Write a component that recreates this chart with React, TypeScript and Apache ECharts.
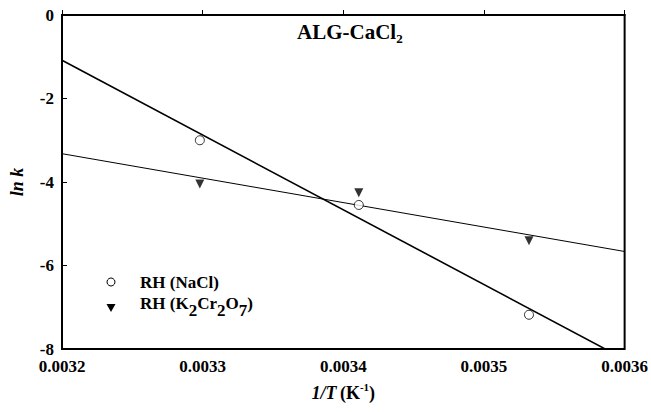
import React, { useEffect, useRef } from "react";
import * as echarts from "echarts";

const xNaCl = [0.003298, 0.003411, 0.003532];
const yNaCl = [-3.0, -4.55, -7.18];
const xK2Cr2O7 = [0.003298, 0.003411, 0.003532];
const yK2Cr2O7 = [-4.05, -4.26, -5.41];
const xTicks = [0.0032, 0.0033, 0.0034, 0.0035, 0.0036];
const yTicks = [-8, -6, -4, -2, 0];

const FONT = "Liberation Serif";

function fit(xs: number[], ys: number[], x0: number, x1: number) {
  const n = xs.length;
  const mx = xs.reduce((a, b) => a + b, 0) / n;
  const my = ys.reduce((a, b) => a + b, 0) / n;
  let sxy = 0, sxx = 0;
  for (let i = 0; i < n; i++) {
    sxy += (xs[i] - mx) * (ys[i] - my);
    sxx += (xs[i] - mx) * (xs[i] - mx);
  }
  const b = sxy / sxx;
  const a = my - b * mx;
  return [[x0, a + b * x0], [x1, a + b * x1]];
}

const base = (size: number, lh: number, extra: any = {}) => ({
  fontFamily: FONT, fontWeight: "bold", fontSize: size, color: "#000", fill: "#000", lineHeight: lh, ...extra,
});

export default function App() {
  const ref = useRef<HTMLDivElement>(null);
  useEffect(() => {
    const chart = echarts.init(ref.current!, null, { renderer: "svg" });
    const xmin = xTicks[0], xmax = xTicks[xTicks.length - 1];
    const grid = { left: 56, top: 15, right: 26, bottom: 63 };
    chart.setOption({
      animation: false,
      backgroundColor: "#fff",
      grid: { ...grid, show: true, borderColor: "#000", borderWidth: 2, backgroundColor: "transparent" },
      xAxis: {
        type: "value",
        min: xmin,
        max: xmax,
        interval: 0.0001,
        axisLine: { show: true, lineStyle: { color: "#000", width: 2 } },
        axisTick: { show: true, inside: true, length: 5, lineStyle: { color: "#000", width: 1 } },
        splitLine: { show: false },
        axisLabel: {
          color: "#000", fontFamily: FONT, fontWeight: "bold", fontSize: 17, margin: 9,
          formatter: (v: number) => v.toFixed(4),
        },
        name: "{i|1/T} {b|(K}{sup|-1}{b|)}",
        nameLocation: "middle",
        nameGap: 32,
        nameTextStyle: {
          rich: {
            i: base(18, 24, { fontStyle: "italic", verticalAlign: "middle" }),
            b: base(18, 24, { verticalAlign: "middle" }),
            sup: base(11, 11, { verticalAlign: "top" }),
          },
        },
      },
      yAxis: {
        type: "value",
        min: yTicks[0],
        max: yTicks[yTicks.length - 1],
        interval: 2,
        axisLine: { show: true, lineStyle: { color: "#000", width: 2 } },
        axisTick: { show: true, inside: true, length: 5, lineStyle: { color: "#000", width: 1 } },
        splitLine: { show: false },
        axisLabel: { color: "#000", fontFamily: FONT, fontWeight: "bold", fontSize: 17, margin: 8 },
        name: "ln k",
        nameLocation: "middle",
        nameGap: 36,
        nameTextStyle: { color: "#000", fontFamily: FONT, fontWeight: "bold", fontStyle: "italic", fontSize: 18 },
      },
      series: [
        {
          type: "line",
          data: fit(xNaCl, yNaCl, xmin, xmax),
          symbol: "none",
          lineStyle: { color: "#000", width: 1.6 },
          clip: true,
          z: 2,
        },
        {
          type: "line",
          data: fit(xK2Cr2O7, yK2Cr2O7, xmin, xmax),
          symbol: "none",
          lineStyle: { color: "#000", width: 1 },
          clip: true,
          z: 2,
        },
        {
          type: "scatter",
          data: xNaCl.map((x, i) => [x, yNaCl[i]]),
          symbol: "circle",
          symbolSize: 9,
          itemStyle: { color: "#fff", borderColor: "#000", borderWidth: 1 },
          z: 3,
        },
        {
          type: "scatter",
          data: xK2Cr2O7.map((x, i) => [x, yK2Cr2O7[i]]),
          symbol: "triangle",
          symbolRotate: 180,
          symbolSize: 9,
          itemStyle: { color: "#000" },
          z: 3,
        },
      ],
      graphic: [
        {
          type: "text",
          left: 297,
          top: 21,
          style: {
            text: "{b|ALG-CaCl}{s|2}",
            rich: {
              b: base(21, 26, { verticalAlign: "middle" }),
              s: base(13, 13, { verticalAlign: "bottom" }),
            },
          },
        },
        {
          type: "circle",
          shape: { cx: 111, cy: 282, r: 4 },
          style: { fill: "#fff", stroke: "#000", lineWidth: 1 },
        },
        {
          type: "polygon",
          shape: { points: [[106.5, 304], [115.5, 304], [111, 312]] },
          style: { fill: "#000" },
        },
        {
          type: "text",
          left: 140,
          top: 274,
          style: {
            text: "{b|RH (NaCl)}",
            rich: { b: base(17, 20, { verticalAlign: "middle" }) },
          },
        },
        {
          type: "text",
          left: 140,
          top: 295,
          style: {
            text: "{b|RH (K}{s|2}{b|Cr}{s|2}{b|O}{s|7}{b|)}",
            rich: {
              b: base(17, 20, { verticalAlign: "top" }),
              s: base(17, 20, { verticalAlign: "top", padding: [7, 0, 0, 0] }),
            },
          },
        },
      ],
    });
    return () => chart.dispose();
  }, []);
  return <div ref={ref} style={{ width: 651, height: 412, position: "absolute", left: 0, top: 0 }} />;
}
